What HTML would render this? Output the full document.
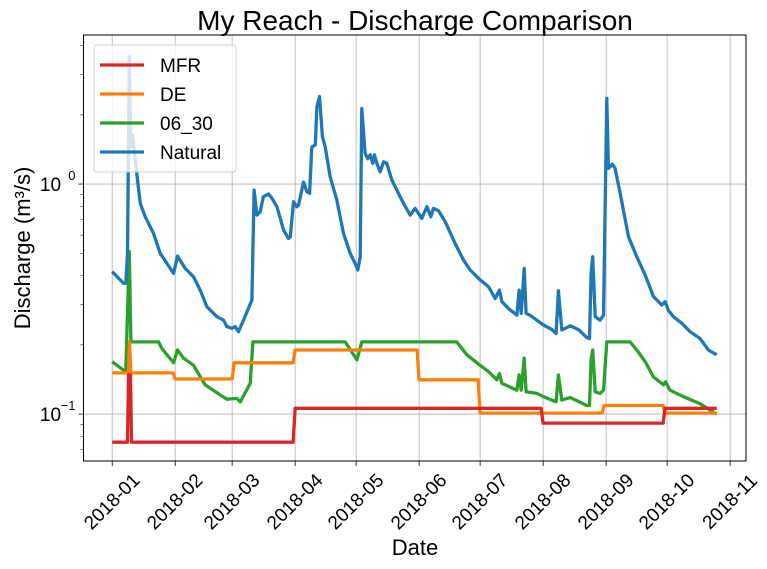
<!DOCTYPE html>
<html><head><meta charset="utf-8"><style>
html,body{margin:0;padding:0;background:#fff;}
svg{display:block;font-family:"Liberation Sans",Arial,sans-serif;}
</style></head><body>
<svg id="chart" width="767" height="569" viewBox="0 0 767 569" xmlns="http://www.w3.org/2000/svg">
<text x="415" y="30" font-size="28" text-anchor="middle">My Reach - Discharge Comparison</text>
<g id="grid"></g>
<g id="series"></g>
<g id="axes"></g>
<text x="415" y="555" font-size="22" text-anchor="middle">Date</text>
<text transform="translate(30,248) rotate(-90)" font-size="22" text-anchor="middle">Discharge (m³/s)</text>
<g id="legend"></g>
</svg>
<script>
const tickLabels = ["2018-01","2018-02","2018-03","2018-04","2018-05","2018-06","2018-07","2018-08","2018-09","2018-10","2018-11"];
const tickDays = [0,31,59,90,120,151,181,212,243,273,304];
const seriesNames = ["MFR","DE","06_30","Natural"];
const mfrDays = [0,7.5,8,9,9.5,89,90,211,212,271,272,297.4];
const mfrVals = [0.0755,0.0755,0.148,0.148,0.0755,0.0755,0.106,0.106,0.0914,0.0914,0.106,0.106];
const deDays = [0,8,8.5,9.2,30,31,59,60,89,90,150,151,180,181,241,242,271,272,297.4];
const deVals = [0.151,0.151,0.206,0.151,0.151,0.142,0.142,0.167,0.167,0.19,0.19,0.141,0.141,0.101,0.101,0.109,0.109,0.101,0.101];
const g0630Days = [0,5.6,6.7,8.4,9.2,22.8,24.4,30.2,32.1,35.1,40,45.7,53.1,56.4,61.3,63,67.9,69.2,114.6,120.4,122.8,169.5,174.5,181,185.1,189.2,190.5,191.7,199.1,200.2,201.2,202.7,203.6,208.9,212.2,218.4,219.5,221.2,225.3,233.5,234.8,235.6,236.4,237.6,240,241.7,243.3,254.8,258.1,262.2,266.3,271.2,272.3,274.4,281,289.2,297.4];
const g0630Vals = [0.169,0.155,0.155,0.508,0.206,0.206,0.193,0.167,0.19,0.175,0.163,0.134,0.121,0.116,0.117,0.113,0.136,0.206,0.206,0.172,0.206,0.206,0.181,0.163,0.153,0.141,0.15,0.136,0.127,0.148,0.127,0.175,0.125,0.123,0.119,0.113,0.148,0.115,0.118,0.109,0.109,0.172,0.19,0.125,0.123,0.127,0.206,0.206,0.19,0.169,0.145,0.134,0.138,0.127,0.119,0.111,0.1];
const natDays = [0,5.6,6.7,7.5,8.4,9.2,10,11.3,13.8,16.2,20.3,23.6,26.9,30.2,32.1,35.9,40,43.3,46.6,51.5,54.8,56.4,58.9,60.5,62.1,64.6,67,68.7,69.8,71.2,72.8,74.4,76.9,78.6,81,84.3,86.7,87.6,89.2,90.8,91.7,94.1,95.8,97.1,98.2,99.9,100.7,102,103.4,104.8,107.2,110.5,113.8,117.1,119.5,120.8,122,122.8,124.4,125.7,126.9,128.2,129,130.2,131.8,133.5,135.1,137.6,140,143.3,146.6,149,151.2,152.3,154.8,156.8,158,160.5,163.8,168.7,172.8,176.1,181,185.1,188.4,190.5,191.7,194.9,199.1,200.2,201.2,202.7,203.6,205.6,208.9,212.2,216.3,218.4,219.5,221.2,225.3,229.4,233.5,234.8,235.6,236.4,237.6,240,241.7,243.3,244.1,246.1,247.4,249.9,254,258.1,262.2,266.3,270.4,272,273.6,276.1,280.2,284.3,289.2,293.3,297.4];
const natVals = [0.416,0.37,0.37,0.5,3.58,1.45,1.63,1.27,0.824,0.721,0.61,0.5,0.452,0.409,0.486,0.43,0.395,0.346,0.293,0.265,0.256,0.24,0.236,0.24,0.228,0.256,0.288,0.313,0.942,0.733,0.758,0.881,0.905,0.867,0.797,0.631,0.58,0.59,0.838,0.797,0.811,1.02,0.926,0.911,1.45,1.48,2.17,2.4,1.61,1.45,1.08,0.852,0.61,0.5,0.452,0.423,0.483,2.13,1.36,1.29,1.34,1.23,1.34,1.23,1.13,1.25,1.23,1.04,0.942,0.824,0.733,0.784,0.733,0.709,0.797,0.721,0.784,0.766,0.686,0.552,0.467,0.423,0.383,0.358,0.318,0.346,0.308,0.288,0.269,0.346,0.274,0.43,0.274,0.269,0.256,0.244,0.233,0.224,0.344,0.232,0.242,0.233,0.215,0.213,0.409,0.483,0.265,0.256,0.269,2.36,1.17,1.22,1.17,0.911,0.59,0.483,0.402,0.324,0.298,0.308,0.283,0.265,0.248,0.228,0.213,0.19,0.181];

const L=83.5,R=746,T=35,B=461;
const dMin=-14.87,dMax=312.3,lMin=-1.204,lMax=0.648;
const xs=d=>82+(d-dMin)/(dMax-dMin)*(747-82);
const ys=v=>B-(Math.log10(v)-lMin)/(lMax-lMin)*(B-T);
const NS="http://www.w3.org/2000/svg";
function mk(tag,attrs,parent){const e=document.createElementNS(NS,tag);for(const k in attrs)e.setAttribute(k,attrs[k]);parent.appendChild(e);return e;}
const grid=document.getElementById('grid'),axes=document.getElementById('axes'),ser=document.getElementById('series');
tickDays.forEach((d,i)=>{
  const x=xs(d);
  const gl=mk('line',{x1:x,x2:x,y1:T,y2:B,stroke:'#b0b0b0','stroke-width':0.8},grid);
  
  
  const tk=mk('line',{x1:x,x2:x,y1:B,y2:B+5,stroke:'#000','stroke-width':0.8},axes);
  
  
  const t=mk('text',{transform:`translate(${x+4},${B+45}) rotate(-45)`,'font-size':19,'text-anchor':'middle'},axes);
  
  
  t.textContent=tickLabels[i];
});
[0.1,1].forEach((v,i)=>{
  const y=ys(v);
  const gl=mk('line',{x1:L,x2:R,y1:y,y2:y,stroke:'#b0b0b0','stroke-width':0.8},grid);
  
  
  mk('line',{x1:L-5,x2:L,y1:y,y2:y,stroke:'#000','stroke-width':0.8},axes);
  const t=mk('text',{x:L-33,y:y+7,'font-size':19,'text-anchor':'middle'},axes);
  
  
  t.textContent='10';
  const s=mk('text',{x:L-8,y:y-4,'font-size':13,'text-anchor':'end'},axes);
  s.textContent=i==0?'−1':'0';
});
[0.07,0.08,0.09,0.2,0.3,0.4,0.5,0.6,0.7,0.8,0.9,2,3,4].forEach(v=>{
  const y=ys(v);mk('line',{x1:L-3,x2:L,y1:y,y2:y,stroke:'#000','stroke-width':0.6},axes);
});
const fr=mk('rect',{x:L,y:T,width:R-L,height:B-T,fill:'none',stroke:'#000','stroke-width':1},axes);


const colors=['#d62728','#ff7f0e','#2ca02c','#1f77b4'];
const allDays=[mfrDays,deDays,g0630Days,natDays],allVals=[mfrVals,deVals,g0630Vals,natVals];
const lineNames=['mfr-line','de-line','06-30-line','natural-line'];
[2,1,0,3].forEach(i=>{
  const pts=allDays[i].map((d,j)=>xs(d).toFixed(1)+','+ys(allVals[i][j]).toFixed(1)).join(' ');
  const p=mk('polyline',{points:pts,fill:'none',stroke:colors[i],'stroke-width':3.3,'stroke-linejoin':'round'},ser);
  
  
});
const lg=document.getElementById('legend');
mk('rect',{x:94,y:45,width:142,height:127,rx:3,fill:'#fff','fill-opacity':0.8,stroke:'#d0d0d0'},lg);
seriesNames.forEach((n,i)=>{
  const y=65+i*29;
  const e=mk('g',{},lg);
  
  
  mk('line',{x1:100,x2:144,y1:y,y2:y,stroke:colors[i],'stroke-width':3.3},e);
  const t=mk('text',{x:160,y:y+7,'font-size':19},e);
  t.textContent=n;
});
</script>
</body></html>
